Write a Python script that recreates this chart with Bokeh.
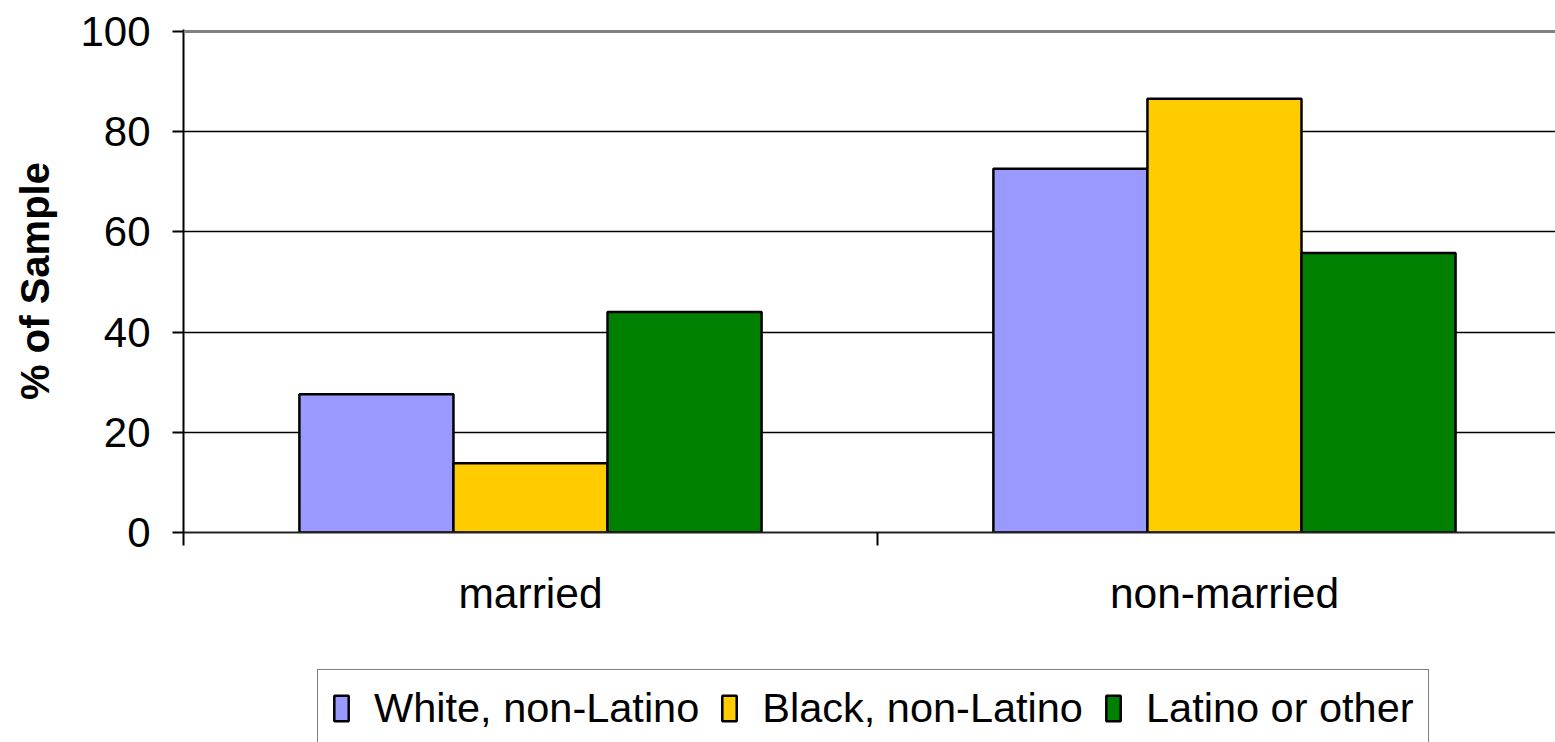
from bokeh.plotting import figure
from bokeh.layouts import column
from bokeh.models import Range1d, FixedTicker, Span, Legend, LegendItem, ColumnDataSource
from bokeh.embed import file_html
from bokeh.resources import INLINE

# Share of sample by marital status, split by race/ethnicity
categories = ["married", "non-married"]
series_names = ["White, non-Latino", "Black, non-Latino", "Latino or other"]
white = [27.6, 72.6]
black = [13.8, 86.6]
latino = [44.0, 55.8]
series_values = [white, black, latino]
colors = ["#9999FF", "#FFCC00", "#008000"]
y_ticks = [0, 20, 40, 60, 80, 100]

FONT = "Liberation Sans"
bar_w = 0.222
offsets = [-bar_w, 0.0, bar_w]

p = figure(width=1555, height=642,
           x_range=Range1d(0, 1.977), y_range=Range1d(0, 100.4),
           output_backend="svg", toolbar_location=None,
           min_border_left=183, min_border_right=0,
           min_border_top=29, min_border_bottom=110)
p.outline_line_color = None
p.background_fill_color = "white"
p.border_fill_color = "white"

# horizontal gridlines
p.xgrid.visible = False
p.ygrid.ticker = FixedTicker(ticks=[20, 40, 60, 80])
p.ygrid.grid_line_color = "black"
p.ygrid.grid_line_width = 1.4

# top border line
p.add_layout(Span(location=100, dimension="width", line_color="#808080", line_width=3))

for name, vals, col, off in zip(series_names, series_values, colors, offsets):
    src = ColumnDataSource(dict(x=[i + 0.5 + off for i in range(len(categories))], top=vals))
    p.vbar(x="x", top="top", width=bar_w, source=src,
           fill_color=col, line_color="black", line_width=2.5)

# y axis
p.yaxis.ticker = FixedTicker(ticks=y_ticks)
p.yaxis.axis_line_color = "black"
p.yaxis.axis_line_width = 2
p.yaxis.major_tick_line_color = "black"
p.yaxis.major_tick_line_width = 2
p.yaxis.major_tick_out = 11
p.yaxis.major_tick_in = 0
p.yaxis.minor_tick_line_color = None
p.yaxis.major_label_text_font = FONT
p.yaxis.major_label_text_font_size = "42px"
p.yaxis.major_label_text_color = "black"
p.yaxis.major_label_standoff = 22
p.yaxis.axis_label = "% of Sample"
p.yaxis.axis_label_text_font = FONT
p.yaxis.axis_label_text_font_size = "40px"
p.yaxis.axis_label_text_font_style = "bold"
p.yaxis.axis_label_text_color = "black"
p.yaxis.axis_label_standoff = 20

# x axis: labels at category centres, ticks at category boundaries
p.xaxis.ticker = FixedTicker(ticks=[i + 0.5 for i in range(len(categories))],
                             minor_ticks=list(range(len(categories) + 1)))
p.xaxis.major_label_overrides = {i + 0.5: c for i, c in enumerate(categories)}
p.xaxis.axis_line_color = "#222222"
p.xaxis.axis_line_width = 2
p.xaxis.major_tick_line_color = None
p.xaxis.major_tick_out = 0
p.xaxis.major_tick_in = 0
p.xaxis.minor_tick_line_color = "black"
p.xaxis.minor_tick_line_width = 2
p.xaxis.minor_tick_out = 13
p.xaxis.minor_tick_in = 0
p.xaxis.major_label_text_font = FONT
p.xaxis.major_label_text_font_size = "42.5px"
p.xaxis.major_label_text_color = "black"
p.xaxis.major_label_standoff = 24

# legend strip underneath the chart; swatch renderers carry no drawable value
lg = figure(width=1555, height=100, x_range=Range1d(0, 1), y_range=Range1d(0, 1),
            output_backend="svg", toolbar_location=None,
            x_axis_type=None, y_axis_type=None,
            min_border_left=0, min_border_right=0, min_border_top=0, min_border_bottom=0)
lg.outline_line_color = None
lg.xgrid.visible = False
lg.ygrid.visible = False
swatches = [lg.vbar(x=[0.5], top=[float("nan")], width=0.1,
                    fill_color=c, line_color="black", line_width=2.5)
            for c in colors]
legend = Legend(items=[LegendItem(label=n, renderers=[r]) for n, r in zip(series_names, swatches)],
                orientation="horizontal", location=(134, -5),
                label_text_font=FONT, label_text_font_size="41.5px", label_text_color="black",
                glyph_width=18, glyph_height=32, label_standoff=24, spacing=21,
                padding=14, margin=0,
                border_line_color="black", border_line_width=1.5,
                background_fill_color="white", background_fill_alpha=1)
lg.add_layout(legend)

open("out.html", "w").write(file_html(column(p, lg, spacing=0), INLINE))
